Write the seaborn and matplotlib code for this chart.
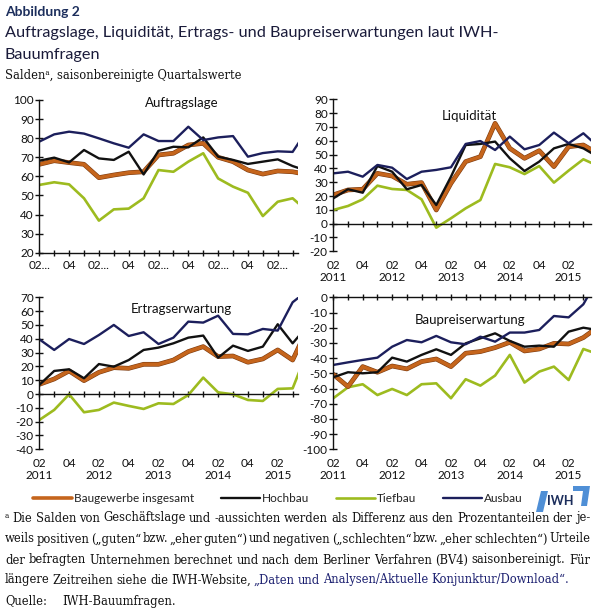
import matplotlib.pyplot as plt
import matplotlib as mpl
import numpy as np
import pandas as pd
import seaborn as sns
from matplotlib.patches import Polygon

sns.set_style('white')
plt.rcParams['font.family'] = ['Lato', 'DejaVu Sans']

# Quartale Q2 2011 .. Q4 2015
quartale = list(range(19))
tick_pos = list(range(18))
labels_jahr = ['02\n2011', '', '04', '', '02\n2012', '', '04', '', '02\n2013', '',
               '04', '', '02\n2014', '', '04', '', '02\n2015', '']
labels_kurz = ['02...', '', '04', '', '02...', '', '04', '', '02...', '',
               '04', '', '02...', '', '04', '', '02...', '']

reihen = ['Baugewerbe insgesamt', 'Hochbau', 'Tiefbau', 'Ausbau']
farben = {'Baugewerbe insgesamt': '#c5651c', 'Hochbau': '#111111',
          'Tiefbau': '#9dbb1f', 'Ausbau': '#1c1f5c'}

# Auftragslage
auftrag_bau = [66.3, 68.2, 67.2, 66.3, 59.3, 60.7, 61.9, 62.4, 71.2, 72.1, 76.4, 77.3, 70.0, 67.7, 63.3, 61.2, 62.8, 62.4, 60.9]
auftrag_hoch = [68.2, 69.8, 67.3, 73.8, 69.4, 68.6, 72.9, 61.0, 73.4, 75.5, 75.2, 80.4, 70.3, 68.6, 66.5, 67.7, 68.9, 65.4, 62.8]
auftrag_tief = [55.5, 56.9, 55.8, 48.5, 36.8, 42.7, 43.1, 48.5, 63.3, 62.4, 67.7, 72.1, 58.9, 54.6, 51.4, 39.2, 46.7, 48.5, 41.7]
auftrag_aus = [78.2, 82.0, 83.4, 82.4, 79.9, 77.3, 75.0, 82.0, 78.5, 78.5, 86.0, 79.0, 80.4, 81.1, 70.3, 72.2, 73.1, 72.8, 84.6]

# Liquiditaet
liq_bau = [20.8, 24.4, 24.9, 36.4, 34.5, 28.5, 29.7, 9.9, 29.2, 44.9, 48.5, 72.6, 54.5, 47.3, 52.8, 41.3, 55.7, 56.9, 50.7]
liq_hoch = [18.3, 24.9, 22.4, 41.7, 37.6, 24.9, 28.0, 13.5, 34.0, 56.9, 57.7, 59.4, 47.3, 38.1, 44.9, 54.5, 57.7, 54.5, 48.3]
liq_tief = [9.9, 12.8, 17.6, 27.5, 25.1, 24.4, 17.6, -2.9, 3.9, 11.1, 17.1, 43.2, 40.8, 35.9, 41.7, 29.7, 38.4, 46.6, 41.8]
liq_aus = [36.4, 37.6, 34.0, 42.5, 40.5, 32.3, 37.6, 38.9, 40.8, 57.7, 59.8, 53.3, 63.0, 53.8, 56.9, 65.9, 58.2, 65.4, 55.8]

# Ertragserwartung
ertrag_bau = [7.0, 10.9, 16.7, 9.7, 15.7, 19.1, 18.6, 21.5, 21.5, 24.6, 30.7, 34.3, 27.1, 27.5, 23.0, 25.4, 31.9, 24.6, 47.5]
ertrag_hoch = [6.6, 16.7, 17.9, 11.4, 21.7, 19.8, 24.6, 31.9, 33.6, 36.7, 40.8, 42.3, 26.3, 35.0, 31.2, 34.3, 50.5, 36.7, 49.3]
ertrag_tief = [-18.8, -11.5, -0.2, -13.2, -11.5, -6.2, -8.6, -10.8, -6.7, -7.2, -0.7, 11.9, 1.2, -0.2, -4.3, -5.0, 3.7, 4.1, 31.2]
ertrag_aus = [39.6, 31.9, 39.8, 36.2, 42.7, 50.0, 42.0, 44.7, 36.2, 40.8, 52.4, 51.7, 56.7, 43.5, 43.2, 47.1, 45.9, 66.4, 74.9]

# Baupreiserwartung
preis_bau = [-50.7, -58.8, -45.6, -49.3, -45.2, -47.1, -42.3, -40.6, -45.6, -36.8, -35.7, -33.1, -29.6, -35.3, -34.0, -30.3, -30.7, -26.5, -19.5]
preis_hoch = [-52.6, -49.3, -50.0, -49.3, -39.7, -42.3, -37.9, -34.2, -37.9, -30.3, -27.0, -23.7, -28.7, -32.5, -31.8, -32.5, -22.6, -20.0, -21.6]
preis_tief = [-66.4, -59.2, -57.2, -64.3, -60.3, -64.3, -57.2, -56.6, -66.4, -53.9, -58.1, -51.5, -37.9, -56.1, -48.9, -45.6, -54.4, -34.0, -37.4]
preis_aus = [-44.5, -42.8, -41.2, -39.7, -32.5, -28.1, -29.6, -25.4, -29.6, -30.9, -25.9, -29.2, -23.2, -23.2, -21.5, -12.3, -13.2, -4.6, 12.4]

panels = [
    ('Auftragslage', [auftrag_bau, auftrag_hoch, auftrag_tief, auftrag_aus], (20, 100)),
    ('Liquidität', [liq_bau, liq_hoch, liq_tief, liq_aus], (-20, 90)),
    ('Ertragserwartung', [ertrag_bau, ertrag_hoch, ertrag_tief, ertrag_aus], (-40, 70)),
    ('Baupreiserwartung', [preis_bau, preis_hoch, preis_tief, preis_aus], (-100, 0)),
]

W, H = 600, 610
fig = plt.figure(figsize=(W / 100, H / 100), dpi=100)

def px(x0, y0, x1, y1):
    return [x0 / W, 1 - y1 / H, (x1 - x0) / W, (y1 - y0) / H]

boxes = [px(39.3, 100, 297.7, 252.7), px(333.3, 99.3, 590.7, 251.3),
         px(39.3, 297.3, 297.7, 449.3), px(333.3, 297.3, 590.7, 449.3)]
xmax = [17.34, 17.5, 17.34, 17.5]
title_pos = [(0.55, 0.98), (0.53, 0.89), (0.55, 0.92), (0.53, 0.85)]
breite = {'Baugewerbe insgesamt': 2.6, 'Hochbau': 1.7, 'Tiefbau': 1.9, 'Ausbau': 1.7}
reihenfolge = [2, 0, 1, 3]

achsen = []
for k, (name, werte, ylim) in enumerate(panels):
    ax = fig.add_axes(boxes[k])
    achsen.append(ax)
    df = pd.DataFrame({'Quartal': quartale})
    for r, v in zip(reihen, werte):
        df[r] = v
    lang = df.melt(id_vars='Quartal', var_name='Reihe', value_name='Saldo')
    for j in reihenfolge:
        r = reihen[j]
        sub = lang[lang['Reihe'] == r]
        if r == 'Baugewerbe insgesamt':
            sns.lineplot(data=sub, x='Quartal', y='Saldo', ax=ax, color='#7a3a10',
                         lw=breite[r] + 0.8, legend=False)
        sns.lineplot(data=sub, x='Quartal', y='Saldo', ax=ax, color=farben[r],
                     lw=breite[r], label=r, legend=False)
    ax.set_xlim(0, xmax[k])
    ax.set_ylim(*ylim)
    ax.set_yticks(np.arange(ylim[0], ylim[1] + 1, 10))
    ax.set_yticklabels([str(int(t)) for t in np.arange(ylim[0], ylim[1] + 1, 10)])
    ax.set_xlabel('')
    ax.set_ylabel('')
    ax.set_facecolor('none')
    for s in ['top', 'right']:
        ax.spines[s].set_visible(False)
    ax.spines['left'].set_color('#111111')
    ax.spines['bottom'].set_color('#111111')
    ax.spines['left'].set_linewidth(1.0)
    ax.spines['bottom'].set_linewidth(1.0)
    ax.spines['bottom'].set_position(('data', max(ylim[0], 0) if k != 0 else ylim[0]))
    ax.tick_params(axis='y', direction='inout', length=6, width=1, labelsize=8.5,
                   colors='#111111', left=True, pad=1)
    ax.set_xticks(tick_pos)
    ax.tick_params(axis='x', direction='inout', length=5, width=1, bottom=True,
                   labelbottom=False, colors='#111111')
    sec = ax.secondary_xaxis('bottom')
    sec.spines['bottom'].set_visible(False)
    sec.set_xticks(tick_pos)
    sec.set_xticklabels(labels_kurz if k == 0 else labels_jahr, linespacing=1.15)
    sec.tick_params(length=0, labelsize=8.5, pad=5 if k == 0 else 6, colors='#111111')
    ax.text(title_pos[k][0], title_pos[k][1], name, transform=ax.transAxes,
            ha='center', va='center', fontsize=9.5, color='#111111')
    ax.grid(False)

# Kopfzeilen
serif = ['DejaVu Serif']
fig.text(5 / W, 1 - 12 / H, 'Abbildung 2', fontsize=10, fontweight='bold',
         color='#1c2e5c', va='center', ha='left')
fig.text(5 / W, 1 - 33 / H, 'Auftragslage, Liquidität, Ertrags- und Baupreiserwartungen laut IWH-',
         fontsize=11.7, color='#1a1b3a', va='center', ha='left')
fig.text(5 / W, 1 - 55 / H, 'Bauumfragen', fontsize=11.7,
         color='#1a1b3a', va='center', ha='left')
fig.text(5 / W, 1 - 75 / H, 'Saldenᵃ, saisonbereinigte Quartalswerte', fontsize=8.3,
         family=serif, color='#111111', va='center', ha='left')

# Legende
handles, labs = achsen[0].get_legend_handles_labels()
ordnung = [labs.index(r) for r in reihen]
leg = fig.legend([handles[i] for i in ordnung], [labs[i] for i in ordnung],
                 loc='center left', bbox_to_anchor=(33 / W, 1 - 499 / H), ncol=4,
                 frameon=False, fontsize=8.5, handlelength=3.3, handletextpad=0.15,
                 columnspacing=2.3, borderaxespad=0, borderpad=0)
for t in leg.get_texts():
    t.set_color('#222222')

# IWH-Logo
logo = [[(536, 512), (543, 512), (548, 491), (541, 491)],
        [(573, 486), (590, 486), (587, 506), (581, 506), (583, 491), (573, 491)]]
for poly in logo:
    fig.patches.append(Polygon([(x / W, 1 - y / H) for x, y in poly], closed=True,
                               transform=fig.transFigure, facecolor='#4f8fd6',
                               edgecolor='none'))
fig.text(547 / W, 1 - 501 / H, 'IWH', fontsize=9, fontweight='bold', color='#1c2e5c',
         va='center', ha='left')

# Fussnote
renderer = fig.canvas.get_renderer()
fuss = [
    ('ᵃ Die Salden von Geschäftslage und -aussichten werden als Differenz aus den Prozentanteilen der je-', 518, True),
    ('weils positiven („guten“ bzw. „eher guten“) und negativen („schlechten“ bzw. „eher schlechten“) Urteile', 539, True),
    ('der befragten Unternehmen berechnet und nach dem Berliner Verfahren (BV4) saisonbereinigt. Für', 560, True),
    ('längere Zeitreihen siehe die IWH-Website, „Daten und Analysen/Aktuelle Konjunktur/Download“.', 580, False),
]
fs = 8.3
for zeile, y, block in fuss:
    woerter = zeile.split(' ')
    texte = []
    for i, w in enumerate(woerter):
        farbe = '#1c2070' if (not block and i >= 5) else '#111111'
        texte.append(fig.text(0, 1 - y / H, w, fontsize=fs, family=serif, color=farbe,
                              va='center', ha='left'))
    breiten = [t.get_window_extent(renderer).width for t in texte]
    if block:
        luecke = (590 - 5 - sum(breiten)) / (len(texte) - 1)
    else:
        luecke = fs * 0.36
    x = 5
    for t, b in zip(texte, breiten):
        t.set_x(x / W)
        x += b + luecke

fig.text(5 / W, 1 - 601 / H, 'Quelle:', fontsize=fs, family=serif, color='#111111', va='center')
fig.text(62 / W, 1 - 601 / H, 'IWH-Bauumfragen.', fontsize=fs, family=serif, color='#111111', va='center')

fig.savefig('out.png', dpi=100)
